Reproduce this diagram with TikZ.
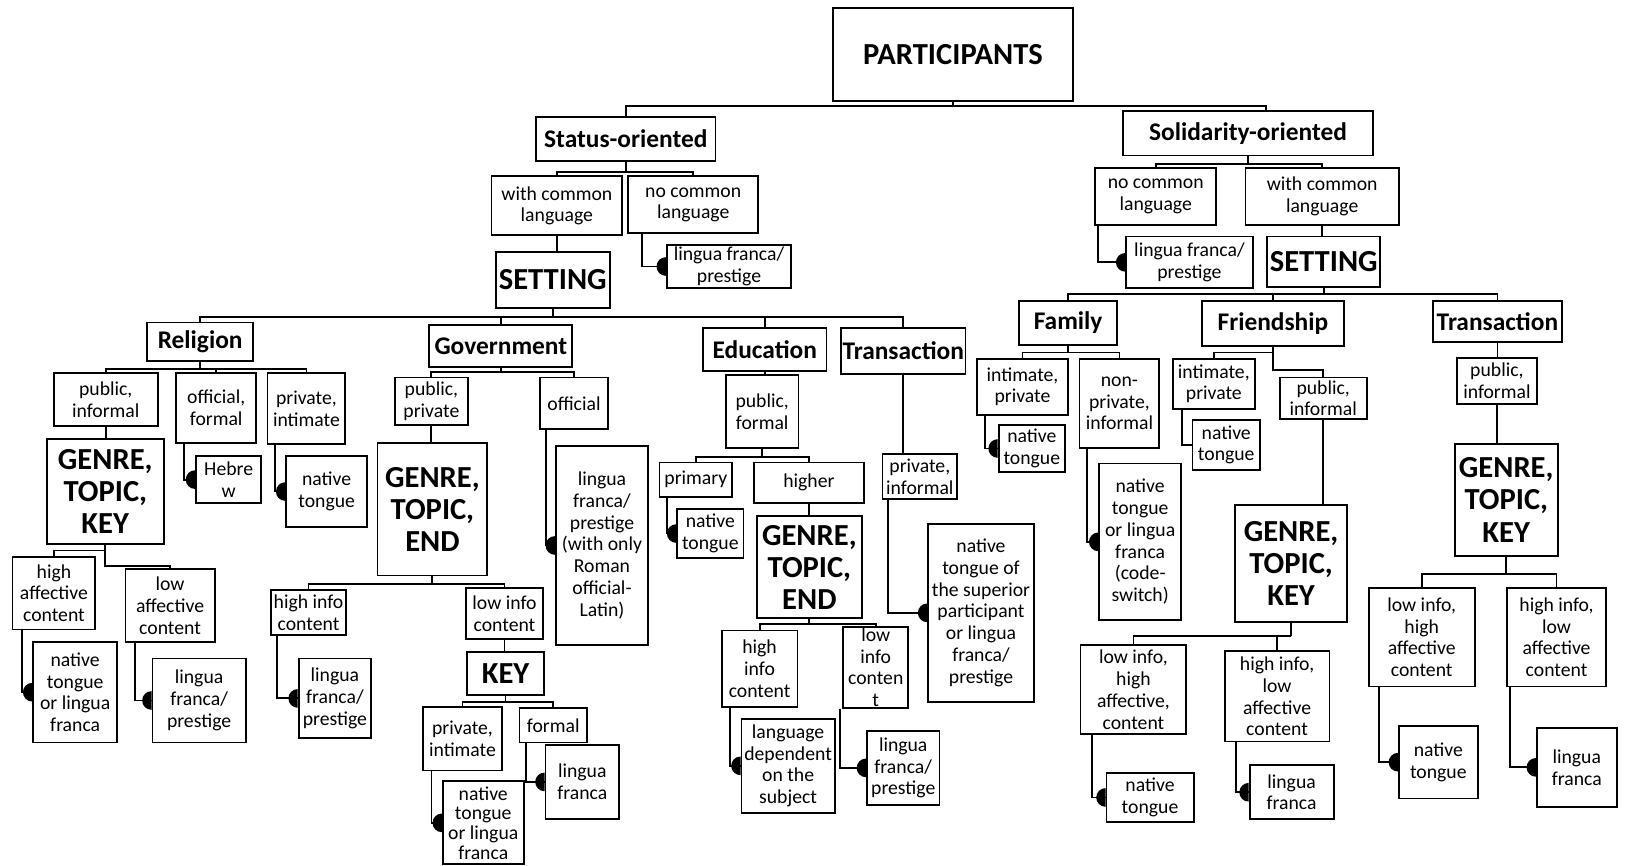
\documentclass[tikz,border=0pt]{standalone}
\usepackage{fontspec}
\setmainfont{Carlito}
\usepackage{tikz}

\begin{document}
\begin{tikzpicture}[x=1pt, y=-1pt,
    box/.style={draw, line width=1.8pt, fill=white, align=center, inner sep=1pt,
      font=\fontsize{19}{21}\selectfont},
    head/.style={box, font=\fontsize{24.5}{26}\selectfont\bfseries},
    big/.style={box, font=\fontsize{29.5}{31}\selectfont\bfseries},
    link/.style={line width=1.8pt},
    sz/.style 2 args={minimum width=#1pt, minimum height=#2pt}]

    \useasboundingbox (0,0) rectangle (1568,835);

    % top level
    \node[big, sz={232}{89}] (part) at (919,52.5) {PARTICIPANTS};
    \node[head, sz={173}{42}] (stat) at (603.5,134) {Status-oriented};
    \node[head, sz={241}{43}] (soli) at (1203.5,128.5) {Solidarity-oriented};

    % status-oriented branch
    \node[box, sz={126}{57}] (swc) at (537,198.5) {with common\\language};
    \node[box, sz={125}{55}] (snc) at (668.5,197.5) {no common\\language};
    \node[box, sz={120}{42}] (slf) at (703,257) {lingua franca/\\prestige};
    \node[big, sz={110}{54}] (sset) at (533,270) {SETTING};

    % solidarity-oriented branch
    \node[box, sz={117}{55}] (rnc) at (1114.5,189.5) {no common\\language};
    \node[box, sz={148}{55}] (rwc) at (1275,189.5) {with common\\language};
    \node[box, sz={122}{50}] (rlf) at (1147,253) {lingua franca/\\prestige};
    \node[big, sz={109}{49}] (rset) at (1276.5,252.5) {SETTING};

    % settings (status)
    \node[head, sz={102}{37}] (rel) at (193,329.5) {Religion};
    \node[head, sz={138}{41}] (gov) at (483,333.5) {Government};
    \node[head, sz={119}{42}] (edu) at (737.5,337) {Education};
    \node[head, sz={120}{45}] (tra) at (871,338.5) {Transaction};

    % religion
    \node[box, sz={100}{51}] (relpi) at (102,385.5) {public,\\informal};
    \node[box, sz={77}{67}] (relof) at (208.5,393.5) {official,\\formal};
    \node[box, sz={75}{68}] (relpv) at (295.5,394) {private,\\intimate};
    \node[big, sz={113}{102}] (relg) at (101.5,474) {GENRE,\\TOPIC,\\KEY};
    \node[box, sz={63}{45}] (relheb) at (220.5,462.5) {Hebre\\w};
    \node[box, sz={78}{68}] (relnt) at (315,474) {native\\tongue};
    \node[box, sz={80}{70}] (relha) at (52,572) {high\\affective\\content};
    \node[box, sz={86}{70}] (rella) at (164,584) {low\\affective\\content};
    \node[box, sz={81}{97}] (relnl) at (72.5,667.5) {native\\tongue\\or lingua\\franca};
    \node[box, sz={90}{81}] (rellf) at (192,675.5) {lingua\\franca/\\prestige};

    % government
    \node[box, sz={70}{46}] (govpp) at (416,387) {public,\\private};
    \node[box, sz={65}{50}] (govof) at (553.5,389) {official};
    \node[big, sz={106}{128}] (govg) at (417,491) {GENRE,\\TOPIC,\\END};
    \node[box, sz={89}{192}] (govlf) at (580.5,526) {lingua\\franca/\\prestige\\(with only\\Roman\\official-\\Latin)};
    \node[box, sz={73}{43}] (govhi) at (297.5,590.5) {high info\\content};
    \node[box, sz={70}{77}] (govhlf) at (323,673.5) {lingua\\franca/\\prestige};
    \node[box, sz={75}{49}] (govlo) at (486.5,591.5) {low info\\content};
    \node[big, sz={75}{41}] (key) at (487.5,649.5) {KEY};
    \node[box, sz={76}{61}] (keypi) at (446,712.5) {private,\\intimate};
    \node[box, sz={65}{33}] (keyfo) at (533.5,699.5) {formal};
    \node[box, sz={78}{80}, font=\fontsize{19}{19}\selectfont] (keynl) at (466,793.5) {native\\tongue\\or lingua\\franca};
    \node[box, sz={71}{72}] (keylf) at (561.5,754) {lingua\\franca};

    % education
    \node[box, sz={70}{70}] (edupf) at (735,397) {public,\\formal};
    \node[box, sz={70}{33}] (edupr) at (671,462.5) {primary};
    \node[box, sz={106}{39}] (eduhg) at (780,465.5) {higher};
    \node[box, sz={64}{47}] (edunt) at (685,514.5) {native\\tongue};
    \node[big, sz={101}{98}] (edug) at (780.5,547) {GENRE,\\TOPIC,\\END};
    \node[box, sz={73}{74}] (eduhi) at (732.5,645) {high\\info\\content};
    \node[box, sz={63}{69}] (edulo) at (844.5,643.5) {low\\info\\conten\\t};
    \node[box, sz={90}{91}] (eduld) at (760,738.5) {language\\dependent\\on the\\subject};
    \node[box, sz={70}{71}] (edulf) at (871,740.5) {lingua\\franca/\\prestige};

    % transaction (status)
    \node[box, sz={72}{43}] (trapi) at (887,459.5) {private,\\informal};
    \node[box, sz={102}{172}] (trant) at (946,591) {native\\tongue of\\the superior\\participant\\or lingua\\franca/\\prestige};

    % settings (solidarity)
    \node[head, sz={94}{43}] (fam) at (1030,311.5) {Family};
    \node[head, sz={137}{44}] (fri) at (1227.5,312) {Friendship};
    \node[head, sz={124}{40}] (trr) at (1444,310) {Transaction};

    % family
    \node[box, sz={88}{54}] (famip) at (986,373) {intimate,\\private};
    \node[box, sz={77}{86}] (famnp) at (1079.5,389) {non-\\private,\\informal};
    \node[box, sz={64}{45}] (famnt) at (995,432.5) {native\\tongue};
    \node[box, sz={79}{151}] (famnl) at (1099.5,522.5) {native\\tongue\\or lingua\\franca\\(code-\\switch)};

    % friendship
    \node[box, sz={79}{48}] (friip) at (1170.5,370) {intimate,\\private};
    \node[box, sz={65}{48}] (frint) at (1182.5,429) {native\\tongue};
    \node[box, sz={84}{40}] (fripi) at (1276,384) {public,\\informal};
    \node[big, sz={108}{113}] (frig) at (1245,543.5) {GENRE,\\TOPIC,\\KEY};
    \node[box, sz={102}{86}] (frilo) at (1093,665) {low info,\\high\\affective,\\content};
    \node[box, sz={101}{87}] (frihi) at (1231.5,671.5) {high info,\\low\\affective\\content};
    \node[box, sz={84}{48}] (frint2) at (1109,769) {native\\tongue};
    \node[box, sz={81}{52}] (frilf) at (1245.5,764) {lingua\\franca};

    % transaction (solidarity)
    \node[box, sz={77}{45}] (trrpi) at (1443.5,367.5) {public,\\informal};
    \node[big, sz={99}{108}] (trrg) at (1452.5,482) {GENRE,\\TOPIC,\\KEY};
    \node[box, sz={102}{95}] (trrlo) at (1371,614.5) {low info,\\high\\affective\\content};
    \node[box, sz={96}{95}] (trrhi) at (1501,614.5) {high info,\\low\\affective\\content};
    \node[box, sz={76}{70}] (trrnt) at (1387,735) {native\\tongue};
    \node[box, sz={77}{76}] (trrlf) at (1520.5,740) {lingua\\franca};

    % tree connectors
    \draw[link] (part.south) -- ++(0,4) coordinate (b0);
    \draw[link] (stat.north) |- (b0) -| ([xshift=17pt]soli.north);
    \draw[link] (stat.south) -- ++(0,10) coordinate (b1);
    \draw[link] (swc.north) |- (b1) -| (snc.north);
    \draw[link] (soli.south) -- ++(0,7) coordinate (b2);
    \draw[link] (rnc.north) |- (b2) -| (rwc.north);
    \draw[link] (swc.south) -- (swc.south |- sset.north);
    \draw[link] (rwc.south) -- (rwc.south |- rset.north);

    \draw[link] (sset.south) -- ++(0,8) coordinate (b3);
    \draw[link] (rel.north) |- (b3) -| (tra.north);
    \draw[link] (gov.north) -- (gov.north |- b3);
    \draw[link] (edu.north) -- (edu.north |- b3);
    \draw[link] (rset.south) -- ++(0,6) coordinate (b4);
    \draw[link] (fam.north) |- (b4) -| (trr.north);
    \draw[link] (fri.north) -- (fri.north |- b4);

    \draw[link] (rel.south) -- ++(0,7) coordinate (b5);
    \draw[link] (relpi.north) |- (b5) -| (relpv.north);
    \draw[link] (relof.north) -- (relof.north |- b5);
    \draw[link] (relpi.south) -- (relpi.south |- relg.north);
    \draw[link] (relg.south) -- ++(0,5) -| (relha.north);
    \draw[link] (relg.south) -- ++(0,20) -| (rella.north);

    \draw[link] (gov.south) -- ++(0,4) coordinate (b6);
    \draw[link] (govpp.north) |- (b6) -| (govof.north);
    \draw[link] (govpp.south) -- (govpp.south |- govg.north);
    \draw[link] (govg.south) -- ++(0,7) coordinate (b7);
    \draw[link] (govhi.north) |- (b7) -| (govlo.north);
    \draw[link] (govlo.south) -- (govlo.south |- key.north);
    \draw[link] (key.south) -- ++(0,6) coordinate (b8);
    \draw[link] (keypi.north) |- (b8) -| (keyfo.north);

    \draw[link] (edu.south) -- (edu.south |- edupf.north);
    \draw[link] (edupf.south) -- ++(0,8) coordinate (b9);
    \draw[link] (edupr.north) |- (b9) -| (eduhg.north);
    \draw[link] (eduhg.south) -- (eduhg.south |- edug.north);
    \draw[link] (edug.south) -- ++(0,5) coordinate (b10);
    \draw[link] (eduhi.north) |- (b10) -| (edulo.north);
    \draw[link] (tra.south) -- (tra.south |- trapi.north);

    \draw[link] (fam.south) -- ++(0,6) coordinate (b11);
    \draw[link] (famip.north) |- (b11) -| (famnp.north);
    \draw[link] (fri.south) -- ++(0,5) -| (friip.north);
    \draw[link] (fri.south) -- ++(0,22) -| (fripi.north);
    \draw[link] ([xshift=10pt]friip.south west) |- (frint.west);
    \draw[link] (fripi.south) -- (fripi.south |- frig.north);
    \draw[link] (frig.south) -- ++(0,12) coordinate (b12);
    \draw[link] (frilo.north) |- (b12) -| (frihi.north);
    \draw[link] (trr.south) -- (trr.south |- trrpi.north);
    \draw[link] (trrpi.south) -- (trrpi.south |- trrg.north);
    \draw[link] (trrg.south) -- ++(0,17) coordinate (b13);
    \draw[link] (trrlo.north) |- (b13) -| (trrhi.north);

    % language choice, ending in a half disc
    \foreach \src/\dx/\dst in {snc/14/slf, rnc/4/rlf, relof/8/relheb, relpv/8/relnt,
        relha/10/relnl, rella/10/rellf, govof/6/govlf, govhi/7/govhlf, keypi/9/keynl,
        keyfo/7/keylf, edupr/8/edunt, eduhi/9/eduld, edulo/-2/edulf, trapi/6/trant,
        famip/9/famnt, famnp/8/famnl, frilo/12/frint2, frihi/12/frilf,
        trrlo/11/trrnt, trrhi/4/trrlf}
    {
        \draw[link] ([xshift=\dx pt]\src.south west) |- (\dst.west);
        \fill ([yshift=9pt]\dst.west) arc[start angle=90, end angle=270, radius=9pt] -- cycle;
    }

\end{tikzpicture}
\end{document}
